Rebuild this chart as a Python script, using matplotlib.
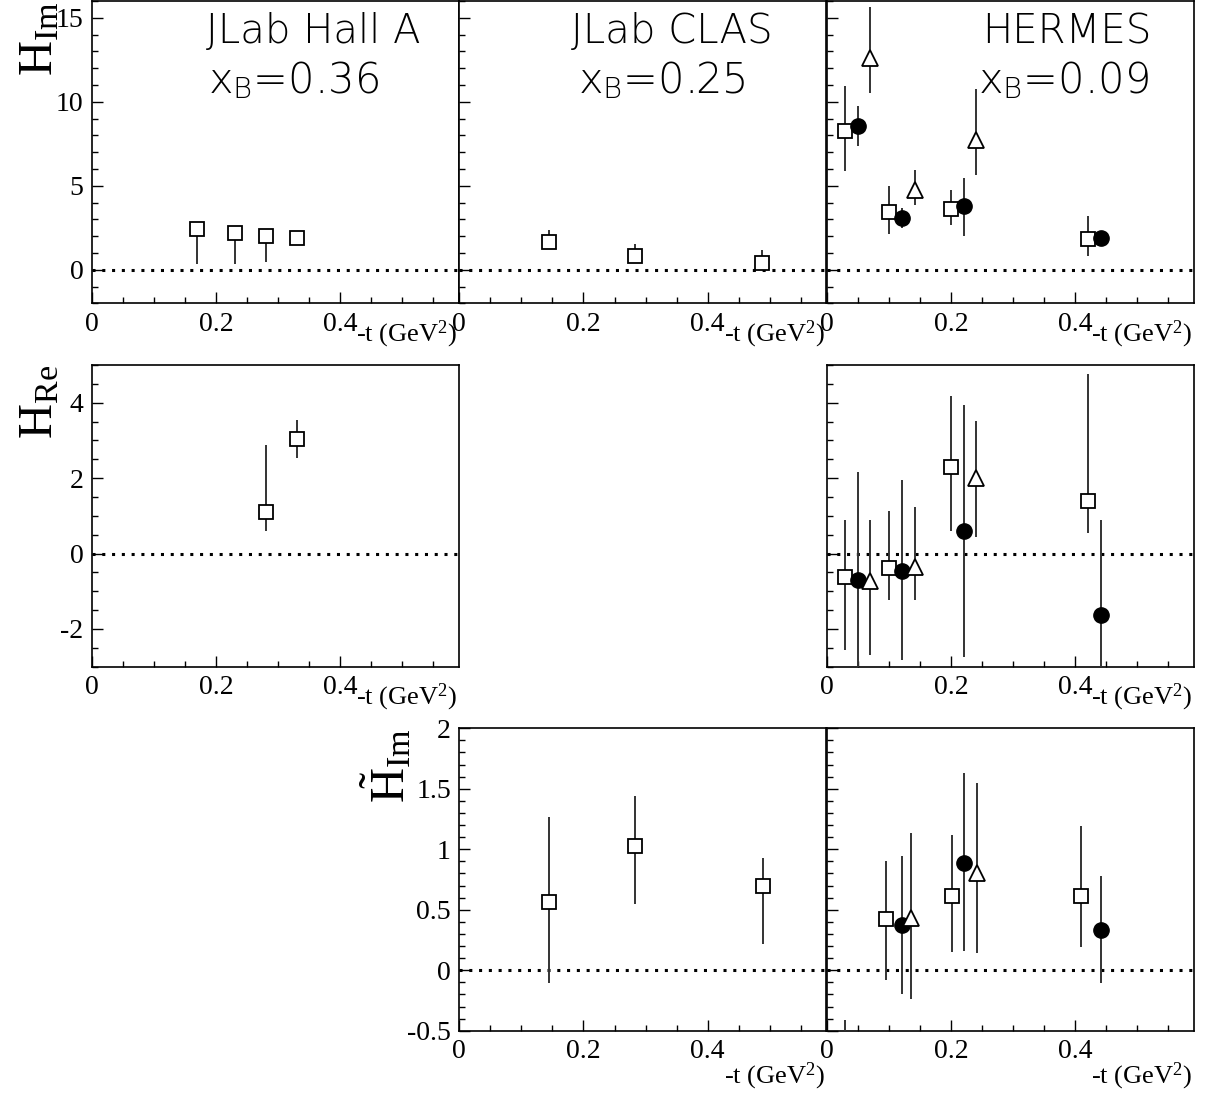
import numpy as np
import matplotlib.pyplot as plt
from matplotlib.ticker import MultipleLocator

plt.rcParams['font.family'] = ['Liberation Serif', 'DejaVu Serif']
plt.rcParams['mathtext.fontset'] = 'custom'
plt.rcParams['mathtext.rm'] = 'Liberation Serif'
plt.rcParams['mathtext.it'] = 'Liberation Serif:italic'

# ---- H_Im (row 1) ----
# each point: t, value, lower bound, upper bound
halla_im_t = [0.170, 0.231, 0.280, 0.331]
halla_im_y = [2.44, 2.20, 2.02, 1.88]
halla_im_lo = [0.34, 0.34, 0.44, 1.80]
halla_im_hi = [2.60, 2.35, 2.15, 1.95]

clas_im_t = [0.145, 0.283, 0.488]
clas_im_y = [1.63, 0.79, 0.40]
clas_im_lo = [1.50, 0.70, 0.30]
clas_im_hi = [2.34, 1.53, 1.19]

herm_im_sq_t = [0.030, 0.100, 0.200, 0.421]
herm_im_sq_y = [8.27, 3.43, 3.63, 1.83]
herm_im_sq_lo = [5.85, 2.12, 2.68, 0.83]
herm_im_sq_hi = [10.95, 4.96, 4.76, 3.21]

herm_im_ci_t = [0.051, 0.121, 0.221, 0.442]
herm_im_ci_y = [8.57, 3.08, 3.77, 1.87]
herm_im_ci_lo = [7.38, 2.46, 1.98, 1.80]
herm_im_ci_hi = [9.76, 3.67, 5.49, 1.95]

herm_im_tr_t = [0.070, 0.142, 0.241]
herm_im_tr_y = [12.6, 4.76, 7.74]
herm_im_tr_lo = [10.52, 3.87, 5.61]
herm_im_tr_hi = [15.67, 5.95, 10.75]

# ---- H_Re (row 2) ----
halla_re_t = [0.280, 0.331]
halla_re_y = [1.10, 3.04]
halla_re_lo = [0.59, 2.54]
halla_re_hi = [2.89, 3.53]

herm_re_sq_t = [0.030, 0.100, 0.200, 0.421]
herm_re_sq_y = [-0.63, -0.38, 2.30, 1.39]
herm_re_sq_lo = [-2.55, -1.24, 0.61, 0.55]
herm_re_sq_hi = [0.88, 1.14, 4.19, 4.77]

herm_re_ci_t = [0.051, 0.121, 0.221, 0.442]
herm_re_ci_y = [-0.69, -0.45, 0.59, -1.62]
herm_re_ci_lo = [-3.5, -2.83, -2.75, -4.0]
herm_re_ci_hi = [2.17, 1.94, 3.93, 0.88]

herm_re_tr_t = [0.070, 0.142, 0.241]
herm_re_tr_y = [-0.73, -0.35, 2.01]
herm_re_tr_lo = [-2.68, -1.22, 0.44]
herm_re_tr_hi = [0.90, 1.23, 3.51]

# ---- H~_Im (row 3) ----
clas_tim_t = [0.145, 0.283, 0.489]
clas_tim_y = [0.565, 1.03, 0.70]
clas_tim_lo = [-0.105, 0.55, 0.22]
clas_tim_hi = [1.27, 1.44, 0.93]

herm_tim_sq_t = [0.030, 0.095, 0.2015, 0.409]
herm_tim_sq_y = [-1.0, 0.42, 0.61, 0.61]
herm_tim_sq_lo = [-1.6, -0.077, 0.15, 0.19]
herm_tim_sq_hi = [-0.41, 0.90, 1.12, 1.19]

herm_tim_ci_t = [0.121, 0.221, 0.442]
herm_tim_ci_y = [0.372, 0.887, 0.336]
herm_tim_ci_lo = [-0.198, 0.16, -0.105]
herm_tim_ci_hi = [0.945, 1.63, 0.777]

herm_tim_tr_t = [0.135, 0.242]
herm_tim_tr_y = [0.435, 0.80]
herm_tim_tr_lo = [-0.24, 0.14]
herm_tim_tr_hi = [1.135, 1.55]

W, H = 1210, 1097
fig = plt.figure(figsize=(W / 100, H / 100), dpi=100)

col_left = [91.7, 459.3, 826.7]
col_w = 367.0
row_tb = [(1.0, 303.3), (365.0, 666.7), (728.3, 1030.7)]
row_ylim = [(-2, 16), (-3, 5), (-0.5, 2)]
row_major = [5, 2, 0.5]
row_minor = [1, 0.5, 0.1]


def make_axes(row, col, ylabels):
    top, bot = row_tb[row]
    ax = fig.add_axes([col_left[col] / W, 1 - bot / H, col_w / W, (bot - top) / H])
    ax.set_xlim(0, 0.591)
    ax.set_ylim(*row_ylim[row])
    ax.xaxis.set_major_locator(MultipleLocator(0.2))
    ax.xaxis.set_minor_locator(MultipleLocator(0.05))
    ax.yaxis.set_major_locator(MultipleLocator(row_major[row]))
    ax.yaxis.set_minor_locator(MultipleLocator(row_minor[row]))
    ax.tick_params(which='both', direction='in', top=False, right=False,
                   labelsize=20, width=1.0)
    ax.tick_params(which='major', length=8, pad=6)
    ax.tick_params(which='minor', length=4)
    ax.xaxis.set_major_formatter(plt.FuncFormatter(lambda v, p: '%g' % v))
    ax.yaxis.set_major_formatter(plt.FuncFormatter(lambda v, p: '%g' % v))
    if not ylabels:
        ax.set_yticklabels([])
    for s in ax.spines.values():
        s.set_linewidth(1.2)
    ax.axhline(0, ls=(0, (1, 2.2)), color='k', lw=2.2, zorder=1)
    lab_y = -0.05 if row < 2 else -0.1
    ax.text(0.995, lab_y, '-t (GeV$^2$)', transform=ax.transAxes,
            ha='right', va='top', fontsize=19)
    return ax


def points(ax, t, y, lo, hi, kind):
    y = np.array(y)
    err = [y - np.array(lo), np.array(hi) - y]
    if kind == 's':
        style = dict(marker='s', ms=10, mfc='white', mec='k', mew=1.3)
    elif kind == 'o':
        style = dict(marker='o', ms=11, mfc='k', mec='k', mew=1.0)
    else:
        style = dict(marker='^', ms=11, mfc='white', mec='k', mew=1.3)
    ax.errorbar(t, y, yerr=err, ls='none', ecolor='#333333', elinewidth=1.4,
                capsize=0, zorder=3, **style)


title_font = dict(family=['DejaVu Sans'], fontweight=200, color='black')


def label_panel(ax, name, xb, x1, x2):
    ax.text(x1, 0.861, name, transform=ax.transAxes, ha='center',
            va='baseline', fontsize=29, **title_font)
    ax.text(x2, 0.695, 'x$_\\mathregular{B}$=' + xb, transform=ax.transAxes,
            ha='center', va='baseline', fontsize=30, **title_font)


# row 1
ax = make_axes(0, 0, True)
points(ax, halla_im_t, halla_im_y, halla_im_lo, halla_im_hi, 's')
label_panel(ax, 'JLab Hall A', '0.36', 0.603, 0.549)

ax = make_axes(0, 1, False)
points(ax, clas_im_t, clas_im_y, clas_im_lo, clas_im_hi, 's')
label_panel(ax, 'JLab CLAS', '0.25', 0.58, 0.551)

ax = make_axes(0, 2, False)
points(ax, herm_im_sq_t, herm_im_sq_y, herm_im_sq_lo, herm_im_sq_hi, 's')
points(ax, herm_im_ci_t, herm_im_ci_y, herm_im_ci_lo, herm_im_ci_hi, 'o')
points(ax, herm_im_tr_t, herm_im_tr_y, herm_im_tr_lo, herm_im_tr_hi, '^')
label_panel(ax, 'HERMES', '0.09', 0.655, 0.644)

# row 2
ax = make_axes(1, 0, True)
points(ax, halla_re_t, halla_re_y, halla_re_lo, halla_re_hi, 's')

ax = make_axes(1, 2, False)
points(ax, herm_re_sq_t, herm_re_sq_y, herm_re_sq_lo, herm_re_sq_hi, 's')
points(ax, herm_re_ci_t, herm_re_ci_y, herm_re_ci_lo, herm_re_ci_hi, 'o')
points(ax, herm_re_tr_t, herm_re_tr_y, herm_re_tr_lo, herm_re_tr_hi, '^')

# row 3
ax = make_axes(2, 1, True)
points(ax, clas_tim_t, clas_tim_y, clas_tim_lo, clas_tim_hi, 's')

ax = make_axes(2, 2, False)
points(ax, herm_tim_sq_t, herm_tim_sq_y, herm_tim_sq_lo, herm_tim_sq_hi, 's')
points(ax, herm_tim_ci_t, herm_tim_ci_y, herm_tim_ci_lo, herm_tim_ci_hi, 'o')
points(ax, herm_tim_tr_t, herm_tim_tr_y, herm_tim_tr_lo, herm_tim_tr_hi, '^')

# y-axis titles
fig.text(62 / W, 1 - 1 / H, '$\\mathrm{H}_{\\mathrm{Im}}$', rotation=90,
         ha='right', va='top', fontsize=35)
fig.text(62 / W, 1 - 365 / H, '$\\mathrm{H}_{\\mathrm{Re}}$', rotation=90,
         ha='right', va='top', fontsize=35)
fig.text(414 / W, 1 - 728 / H, '$\\tilde{\\mathrm{H}}_{\\mathrm{Im}}$', rotation=90,
         ha='right', va='top', fontsize=35)

fig.savefig('out.png', dpi=100)
